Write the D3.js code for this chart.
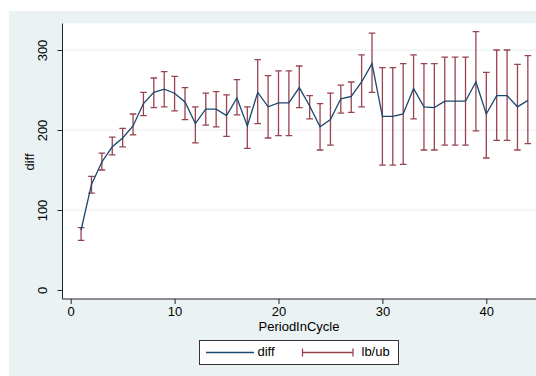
<!DOCTYPE html>
<html>
<head>
<meta charset="utf-8">
<script src="https://cdn.jsdelivr.net/npm/d3@7"></script>
<style>
  html, body { margin: 0; padding: 0; background: #fff; }
  svg { display: block; font-family: "Liberation Sans", Arial, sans-serif; }
</style>
</head>
<body>
<div class="chart"></div>
<script>
// data
const periods = [1, 2, 3, 4, 5, 6, 7, 8, 9, 10, 11, 12, 13, 14, 15, 16, 17, 18, 19, 20, 21, 22,
  23, 24, 25, 26, 27, 28, 29, 30, 31, 32, 33, 34, 35, 36, 37, 38, 39, 40, 41, 42, 43, 44];
const diff = [75, 132, 160, 179, 190, 205, 233, 247, 251, 246, 235, 208, 226, 226, 218, 240, 205, 247,
  229, 234, 234, 253, 230, 204, 213, 239, 242, 260, 283, 217, 217, 220, 252, 229, 228, 236, 236, 236,
  260, 220, 243, 243, 229, 237];
const lb = [62, 121, 150, 169, 179, 194, 218, 228, 229, 224, 213, 184, 206, 204, 192, 219, 177, 208,
  190, 193, 193, 228, 214, 175, 181, 221, 222, 229, 247, 156, 156, 157, 214, 175, 175, 181, 181, 181,
  199, 165, 187, 187, 175, 183];
const ub = [78, 142, 171, 191, 202, 220, 247, 265, 273, 267, 253, 229, 246, 248, 244, 263, 229, 288,
  268, 274, 274, 280, 243, 233, 246, 256, 260, 294, 321, 278, 278, 283, 294, 283, 283, 291, 291, 291,
  323, 272, 300, 300, 282, 293];
const xTicks = [0, 10, 20, 30, 40];
const yTicks = [0, 100, 200, 300];
const gridTicks = [100, 200, 300];

const width = 536, height = 376;
const lineColor = "#1a476f", barColor = "#974450", bg = "#eaf2f3";

const svg = d3.select(".chart").append("svg")
  .attr("width", width)
  .attr("height", height);

// outer graph region and plot region
svg.append("rect").attr("x", 9).attr("y", 11).attr("width", width - 9).attr("height", height - 11).attr("fill", bg);
const plot = { left: 62.5, top: 23.5, right: width, bottom: 299 };
svg.append("rect")
  .attr("x", plot.left).attr("y", plot.top)
  .attr("width", plot.right - plot.left).attr("height", plot.bottom - plot.top)
  .attr("fill", "#fff");

const x = d3.scaleLinear().domain([0, 40]).range([70.7, 486.3]);
const y = d3.scaleLinear().domain([0, 300]).range([290, 50]);

// gridlines
svg.append("g").selectAll("line")
  .data(gridTicks)
  .enter().append("line")
  .attr("x1", plot.left).attr("x2", plot.right)
  .attr("y1", d => y(d)).attr("y2", d => y(d))
  .attr("stroke", "#e6eef0").attr("stroke-width", 1);

// y axis
const yAxis = svg.append("g")
  .attr("transform", `translate(${plot.left},0)`)
  .call(d3.axisLeft(y).tickValues(yTicks).tickSize(5).tickPadding(6).tickFormat(d3.format("d")));
yAxis.select(".domain").attr("d", `M0,${plot.top}V${plot.bottom}`).attr("stroke", "#222");
yAxis.selectAll(".tick line").attr("stroke", "#222");
yAxis.selectAll(".tick text")
  .attr("x", 0).attr("dy", 0)
  .attr("transform", "translate(-18.5,0) rotate(-90)")
  .attr("text-anchor", "middle")
  .attr("dominant-baseline", "middle")
  .style("font-size", "13px").attr("fill", "#000");

// x axis
const xAxis = svg.append("g")
  .attr("transform", `translate(0,${plot.bottom})`)
  .call(d3.axisBottom(x).tickValues(xTicks).tickSize(5).tickFormat(d3.format("d")));
xAxis.select(".domain").attr("d", `M${plot.left},0H${plot.right}`).attr("stroke", "#222");
xAxis.selectAll(".tick line").attr("stroke", "#222");
xAxis.selectAll(".tick text")
  .attr("y", 16.5).attr("dy", null)
  .style("font-size", "13px").attr("fill", "#000");

// axis titles
svg.append("text")
  .attr("transform", "translate(31,162) rotate(-90)")
  .attr("text-anchor", "middle").attr("dominant-baseline", "middle")
  .style("font-size", "13px")
  .text("diff");
svg.append("text")
  .attr("x", 299).attr("y", 330.5)
  .attr("text-anchor", "middle")
  .style("font-size", "13px")
  .text("PeriodInCycle");

// error bars (rcap)
const capW = 3.3;
const bars = svg.append("g").attr("stroke", barColor).attr("stroke-width", 1.3).attr("fill", "none");
bars.selectAll("path")
  .data(periods)
  .enter().append("path")
  .attr("d", (p, i) => {
    const cx = x(p), yl = y(lb[i]), yu = y(ub[i]);
    return `M${cx},${yl}V${yu}M${cx - capW},${yu}H${cx + capW}M${cx - capW},${yl}H${cx + capW}`;
  });

// diff line
const line = d3.line()
  .x((p) => x(p))
  .y((p, i) => y(diff[i]));
svg.append("path")
  .datum(periods)
  .attr("d", line)
  .attr("fill", "none")
  .attr("stroke", lineColor)
  .attr("stroke-width", 1.3);

// legend
const legend = svg.append("g");
legend.append("rect")
  .attr("x", 199.5).attr("y", 340.5).attr("width", 199).attr("height", 24)
  .attr("fill", "#fff").attr("stroke", "#333").attr("stroke-width", 1);
legend.append("line")
  .attr("x1", 206).attr("x2", 254).attr("y1", 352.5).attr("y2", 352.5)
  .attr("stroke", lineColor).attr("stroke-width", 1.3);
legend.append("text")
  .attr("x", 257.5).attr("y", 353).attr("dominant-baseline", "middle")
  .style("font-size", "13px").text("diff");
legend.append("path")
  .attr("d", "M302.5,352.5H353M302.5,348.5V356.5M353,348.5V356.5")
  .attr("stroke", barColor).attr("stroke-width", 1.3).attr("fill", "none");
legend.append("text")
  .attr("x", 361.5).attr("y", 353).attr("dominant-baseline", "middle")
  .style("font-size", "13px").text("lb/ub");
</script>
</body>
</html>
